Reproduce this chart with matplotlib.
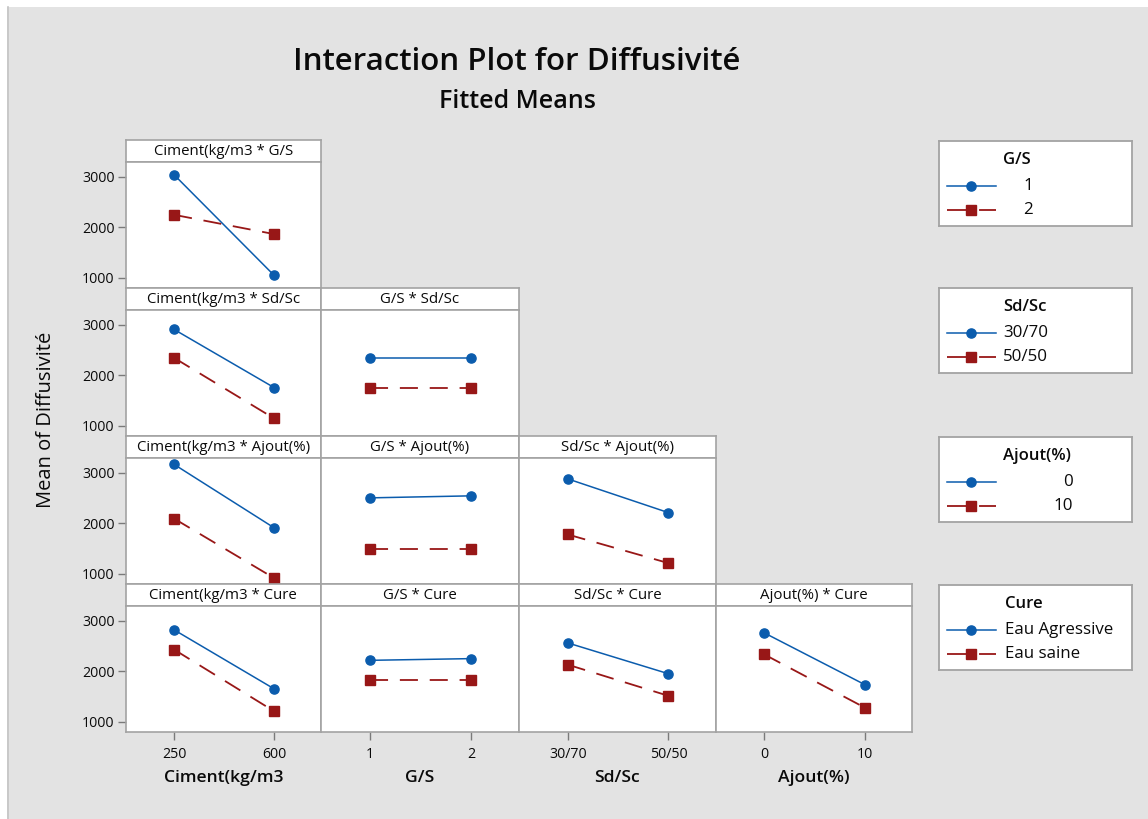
import matplotlib
matplotlib.use("Agg")
import matplotlib.pyplot as plt
from matplotlib.lines import Line2D
from matplotlib.patches import Rectangle

plt.rcParams["font.family"] = ["Open Sans", "DejaVu Sans"]
plt.rcParams["lines.scale_dashes"] = False

# ---- factors and levels ----
ciment_levels = ["250", "600"]
gs_levels = ["1", "2"]
sdsc_levels = ["30/70", "50/50"]
ajout_levels = ["0", "10"]
cure_levels = ["Eau Agressive", "Eau saine"]

x_factor_names = ["Ciment(kg/m3", "G/S", "Sd/Sc", "Ajout(%)"]
x_factor_levels = [ciment_levels, gs_levels, sdsc_levels, ajout_levels]
trace_factor_names = ["G/S", "Sd/Sc", "Ajout(%)", "Cure"]
trace_factor_levels = [gs_levels, sdsc_levels, ajout_levels, cure_levels]

# ---- fitted means (first trace level, second trace level) ----
ciment_gs_1 = [3039, 1053]
ciment_gs_2 = [2249, 1868]

ciment_sdsc_3070 = [2908, 1760]
ciment_sdsc_5050 = [2346, 1150]
gs_sdsc_3070 = [2346, 2346]
gs_sdsc_5050 = [1755, 1755]

ciment_ajout_0 = [3166, 1914]
ciment_ajout_10 = [2094, 920]
gs_ajout_0 = [2505, 2545]
gs_ajout_10 = [1488, 1488]
sdsc_ajout_0 = [2880, 2213]
sdsc_ajout_10 = [1781, 1215]

ciment_cure_agr = [2821, 1656]
ciment_cure_saine = [2431, 1213]
gs_cure_agr = [2219, 2253]
gs_cure_saine = [1835, 1835]
sdsc_cure_agr = [2563, 1954]
sdsc_cure_saine = [2133, 1517]
ajout_cure_agr = [2761, 1741]
ajout_cure_saine = [2335, 1286]

panel_means = [
    [(ciment_gs_1, ciment_gs_2)],
    [(ciment_sdsc_3070, ciment_sdsc_5050), (gs_sdsc_3070, gs_sdsc_5050)],
    [(ciment_ajout_0, ciment_ajout_10), (gs_ajout_0, gs_ajout_10),
     (sdsc_ajout_0, sdsc_ajout_10)],
    [(ciment_cure_agr, ciment_cure_saine), (gs_cure_agr, gs_cure_saine),
     (sdsc_cure_agr, sdsc_cure_saine), (ajout_cure_agr, ajout_cure_saine)],
]

y_ticks = [1000, 2000, 3000]

# ---- styling ----
W, H = 1148, 819
BG = "#e3e3e3"
FRAME = "#a3a3a3"
BLUE = "#0b5cad"
RED = "#981717"
TXT = "#0a0a0a"

fig = plt.figure(figsize=(W / 100, H / 100), dpi=100)
fig.patch.set_facecolor("white")
fig.add_artist(Rectangle((7 / W, 0), (W - 7) / W, (H - 7) / H,
                         transform=fig.transFigure, facecolor=BG,
                         edgecolor="none", zorder=-10))
fig.add_artist(Line2D([7.5 / W, 7.5 / W], [0, (H - 7) / H],
                      transform=fig.transFigure, color="#c4c4c4", lw=1.2))


def px_rect(x0, y0, x1, y1):
    return [x0 / W, 1 - y1 / H, (x1 - x0) / W, (y1 - y0) / H]


col_edges = [125.7, 321, 519, 715.7, 911.7]
row_tops = [140, 288, 436, 584]
STRIP_H = 21.5
BLOCK_H = 148

red_dash = (0, (13, 8.5))

for r in range(4):
    top = row_tops[r]
    for c in range(r + 1):
        x0, x1 = col_edges[c], col_edges[c + 1]
        # strip header
        sax = fig.add_axes(px_rect(x0, top, x1, top + STRIP_H))
        sax.set_facecolor("white")
        sax.set_xticks([])
        sax.set_yticks([])
        for sp in sax.spines.values():
            sp.set_color(FRAME)
            sp.set_linewidth(1.2)
        sax.text(0.5, 0.47, f"{x_factor_names[c]} * {trace_factor_names[r]}",
                 ha="center", va="center", fontsize=10.8, color=TXT,
                 transform=sax.transAxes)

        # panel
        ax = fig.add_axes(px_rect(x0, top + STRIP_H, x1, top + BLOCK_H))
        ax.set_facecolor("white")
        for sp in ax.spines.values():
            sp.set_color(FRAME)
            sp.set_linewidth(1.2)
        s1, s2 = panel_means[r][c]
        xs = list(range(len(x_factor_levels[c])))
        ax.plot(xs, s1, color=BLUE, lw=1.1, marker="o", ms=6.6,
                mec=BLUE, mfc=BLUE, zorder=3)
        ax.plot(xs, s2, color=RED, lw=1.3, ls=red_dash, marker="s", ms=6.6,
                mec=RED, mfc=RED, zorder=3)
        ax.set_xlim(-0.485, 1.47)
        ax.set_ylim(802, 3303)

        ax.tick_params(colors="#7a7a7a", labelcolor=TXT, labelsize=10.2,
                       length=5.5, width=1.0, pad=2.5)
        if c == 0:
            ax.set_yticks(y_ticks)
            ax.set_yticklabels([str(v) for v in y_ticks])
        else:
            ax.set_yticks([])
        if r == 3:
            ax.set_xticks(xs)
            ax.set_xticklabels(x_factor_levels[c])
            ax.tick_params(axis="x", pad=5)
            ax.set_xlabel(x_factor_names[c], fontsize=12.6, fontweight="semibold",
                          color=TXT, labelpad=6)
        else:
            ax.set_xticks([])

# titles
fig.text(517 / W, 1 - 62 / H, "Interaction Plot for Diffusivité",
         ha="center", va="center", fontsize=22.5, color=TXT, fontweight="semibold")
fig.text(517 / W, 1 - 101 / H, "Fitted Means",
         ha="center", va="center", fontsize=18, color=TXT, fontweight="semibold")
fig.text(46 / W, 1 - 420 / H, "Mean of Diffusivité", rotation=90,
         ha="center", va="center", fontsize=14.5, color=TXT)

# legend boxes, one per trace factor
leg_left, leg_right = 939, 1132
leg_tops = [140.7, 288, 437, 585]
LEG_H = 85
# label placement: (x position in px, horizontal alignment)
label_place = [(1028, "center"), (1003, "left"), (1073, "right"), (1005, "left")]
title_x = [1003, 1003, 1003, 1005]

for i in range(4):
    lt = leg_tops[i]
    lax = fig.add_axes(px_rect(leg_left, lt, leg_right, lt + LEG_H))
    lax.set_facecolor("white")
    lax.set_xlim(leg_left, leg_right)
    lax.set_ylim(lt + LEG_H, lt)
    lax.set_xticks([])
    lax.set_yticks([])
    for sp in lax.spines.values():
        sp.set_color(FRAME)
        sp.set_linewidth(1.3)
    lax.text(title_x[i], lt + 19, trace_factor_names[i], ha="left",
             va="center", fontsize=12, fontweight="semibold", color=TXT)
    y1, y2 = lt + 45, lt + 69
    lax.plot([947, 996], [y1, y1], color=BLUE, lw=1.1)
    lax.plot([971], [y1], color=BLUE, marker="o", ms=6.6, ls="none")
    lax.plot([947, 996], [y2, y2], color=RED, lw=1.3, ls=(0, (13.7, 9.4)))
    lax.plot([971], [y2], color=RED, marker="s", ms=6.6, ls="none")
    lx, ha = label_place[i]
    for yy, lab in zip([y1, y2], trace_factor_levels[i]):
        lax.text(lx, yy, lab, ha=ha, va="center", fontsize=12.2, color=TXT)

fig.savefig("out.png", dpi=100, facecolor=fig.get_facecolor())
